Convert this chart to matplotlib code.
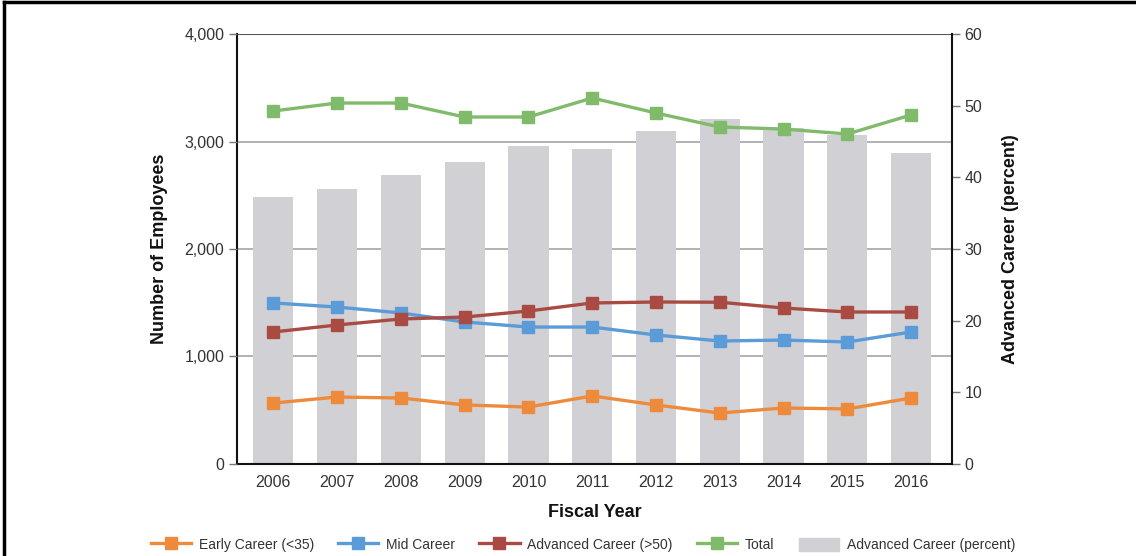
import matplotlib.pyplot as plt
from matplotlib.lines import Line2D
from matplotlib.patches import Patch

plt.rcParams['font.family'] = ['Liberation Sans', 'DejaVu Sans']

# Data
years = [2006, 2007, 2008, 2009, 2010, 2011, 2012, 2013, 2014, 2015, 2016]
early = [567, 623, 614, 549, 530, 633, 549, 474, 521, 512, 614]
mid = [1498, 1460, 1405, 1321, 1274, 1274, 1200, 1144, 1153, 1135, 1228]
advanced = [1228, 1293, 1349, 1367, 1423, 1498, 1507, 1505, 1451, 1414, 1414]
total = [3284, 3358, 3358, 3228, 3228, 3405, 3265, 3135, 3116, 3070, 3247]
adv_pct = [37.3, 38.4, 40.3, 42.1, 44.4, 44.0, 46.5, 48.1, 46.9, 45.9, 43.4]

colors = {'early': '#ee8a3c', 'mid': '#5b9bd8', 'adv': '#a94b43', 'total': '#80bb6c'}
bar_color = '#d1d1d5'
text_color = '#333333'

fig = plt.figure(figsize=(11.36, 5.56), dpi=100)
ax2 = fig.add_axes([0.2086, 0.1655, 0.6294, 0.7733])
ax = ax2.twinx()
# lines axis on the left, bars axis on the right
ax.yaxis.tick_left()
ax.yaxis.set_label_position('left')
ax2.yaxis.tick_right()
ax2.yaxis.set_label_position('right')

x = list(range(len(years)))

# gridlines behind bars (in right-axis units)
for v in [1000, 2000, 3000]:
    ax2.axhline(v * 60 / 4000, color='#a6a6a6', lw=1.2, zorder=0)
ax2.axhline(60, color='#555555', lw=1.5, zorder=0)

ax2.bar(x, adv_pct, width=0.63, color=bar_color, zorder=1)
ax2.set_ylim(0, 60)
ax2.set_yticks(range(0, 61, 10))

series = [(early, colors['early'], 'Early Career (<35)'),
          (mid, colors['mid'], 'Mid Career'),
          (advanced, colors['adv'], 'Advanced Career (>50)'),
          (total, colors['total'], 'Total')]
for vals, c, lab in series:
    ax.plot(x, vals, color=c, lw=2.4, marker='s', markersize=8.5, label=lab)

ax.set_ylim(0, 4000)
ax.set_yticks(range(0, 4001, 1000))
ax.set_yticklabels([f'{v:,}' for v in range(0, 4001, 1000)])
ax.set_xlim(-0.57, 10.64)
ax2.set_xlim(-0.57, 10.64)
ax2.set_xticks(x)
ax2.set_xticklabels([str(y) for y in years])

for a in (ax, ax2):
    for s in a.spines.values():
        s.set_visible(False)
for s in ('left', 'right', 'bottom'):
    ax2.spines[s].set_visible(True)
    ax2.spines[s].set_color('#111111')
    ax2.spines[s].set_linewidth(1.5)

ax.tick_params(axis='y', direction='out', length=6, width=1, color='#777777',
               labelsize=11.5, labelcolor=text_color, pad=3)
ax2.tick_params(axis='y', direction='out', length=6, width=1, color='#777777',
                labelsize=11.5, labelcolor=text_color, pad=3)
ax2.tick_params(axis='x', length=0, labelsize=11.5, labelcolor=text_color, pad=8)

ax.set_ylabel('Number of Employees', fontsize=13, fontweight='bold', color='#111111', labelpad=12)
ax2.set_ylabel('Advanced Career (percent)', fontsize=13, fontweight='bold', color='#111111', labelpad=14)
ax2.set_xlabel('Fiscal Year', fontsize=13, fontweight='bold', color='#111111', labelpad=10)

# legend
handles = [Line2D([], [], color=c, lw=2.4, marker='s', markersize=8.5) for _, c, _ in series]
handles.append(Patch(color=bar_color))
labels = [lab for _, _, lab in series] + ['Advanced Career (percent)']
fig.legend(handles, labels, loc='center', bbox_to_anchor=(0.513, 0.02), ncol=5,
           frameon=False, fontsize=10, handlelength=2.9, handleheight=1.1,
           columnspacing=1.75, handletextpad=0.55, labelcolor=text_color)

# partial frame around figure
fig.add_artist(Line2D([0.0035, 0.0035], [0, 0.996], transform=fig.transFigure, color='black', lw=2.5))
fig.add_artist(Line2D([0.0035, 1], [0.996, 0.996], transform=fig.transFigure, color='black', lw=2.5))

fig.savefig('out.png', dpi=100)
